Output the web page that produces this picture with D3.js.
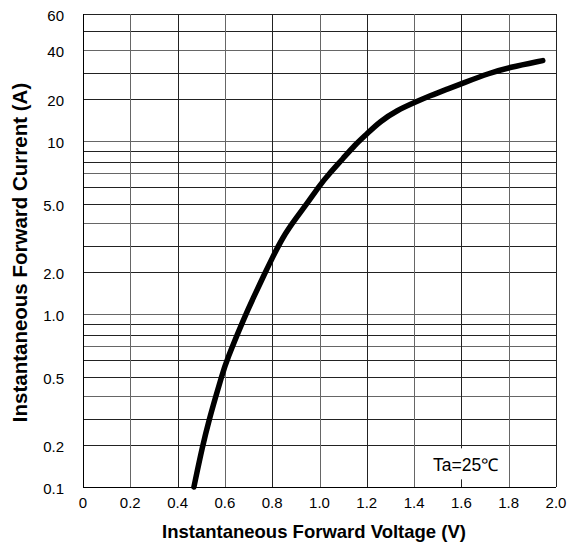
<!DOCTYPE html>
<html>
<head>
        <meta charset="utf-8">
        <script src="https://d3js.org/d3.v7.min.js"></script>
        <style>
            body { margin: 0; background: #fff; }
            text { font-family: "Liberation Sans", Arial, sans-serif; fill: #000; }
            .tick_label { font-size: 15px; }
            .axis_title { font-weight: bold; }
        </style>
</head>
<body>
        <script type="text/javascript">

            // Curve: voltage (V) vs current (A)
            var voltage = [0.469, 0.506, 0.534, 0.562, 0.585, 0.607, 0.685, 0.720, 0.762, 0.802, 0.847, 0.896, 0.953, 1.002, 1.037, 1.101, 1.150, 1.200, 1.256, 1.326, 1.404, 1.467, 1.538, 1.604, 1.721, 1.800, 1.944];
            var current = [0.1, 0.2, 0.3, 0.4, 0.5, 0.6, 0.98, 1.38, 1.89, 2.58, 3.42, 4.17, 5.15, 6.16, 6.88, 8.36, 9.6, 11.6, 14.6, 17.2, 19.2, 21.2, 23.7, 26.0, 30.0, 32.3, 35.3];

            // Grid and ticks
            var xGrid = [0, 0.2, 0.4, 0.6, 0.8, 1.0, 1.2, 1.4, 1.6, 1.8, 2.0];
            var xTickLabels = ["0", "0.2", "0.4", "0.6", "0.8", "1.0", "1.2", "1.4", "1.6", "1.8", "2.0"];
            var yGrid = [0.1, 0.2, 0.3, 0.4, 0.5, 0.6, 0.7, 0.8, 0.9, 1, 2, 3, 4, 5, 6, 7, 8, 9, 10, 20, 30, 40, 50, 60];
            var yTicks = [0.1, 0.2, 0.5, 1, 2, 5, 10, 20, 40, 60];
            var yTickLabels = ["0.1", "0.2", "0.5", "1.0", "2.0", "5.0", "10", "20", "40", "60"];

            // the chart paper: where 1..10 falls inside one decade
            var mantissa = [1, 2, 3, 4, 5, 6, 7, 8, 9, 10];
            var decadeSpacing = [0, 0.2405, 0.391, 0.525, 0.633, 0.731, 0.812, 0.876, 0.939, 1];

            var note = "Ta=25\u2103";
            var xTitle = "Instantaneous Forward Voltage (V)";
            var yTitle = "Instantaneous Forward Current (A)";

            function draw() {

                    var w = 570;
                    var h = 544;

                    var margin = {top: 14, right: 14, bottom: 57, left: 83},
                    width = w - margin.left - margin.right,
                    height = h - margin.top - margin.bottom;

                    var mant = d3.scaleLinear().domain(mantissa).range(decadeSpacing);

                    function paper(v) {
                        var e = Math.floor(Math.log10(v) + 1e-9);
                        return e + mant(v / Math.pow(10, e));
                    }

                    var x = d3.scaleLinear()
                        .domain([0, 2.0])
                        .range([0, width]);

                    var yp = d3.scaleLinear()
                        .domain([paper(0.1), paper(60)])
                        .range([height, 0]);

                    var y = function(v) { return yp(paper(v)); };

                    var data = voltage.map(function(v, i) { return {v: v, i: current[i]}; });

                    var svg = d3.select("body")
                        .append("svg")
                            .attr("width", w)
                            .attr("height", h)
                        .append("g")
                        .attr("transform", "translate(" + margin.left + "," + margin.top + ")");

                    // grid
                    svg.selectAll(".hgrid")
                        .data(yGrid)
                        .enter().append("line")
                        .attr("class", "hgrid")
                        .attr("x1", 0)
                        .attr("x2", width)
                        .attr("y1", function(d) { return Math.round(y(d)) + 0.5; })
                        .attr("y2", function(d) { return Math.round(y(d)) + 0.5; })
                        .attr("stroke", function(d, i) { return i % 3 == 0 ? "#666" : "#222"; })
                        .attr("stroke-width", 1);

                    svg.selectAll(".vgrid")
                        .data(xGrid)
                        .enter().append("line")
                        .attr("class", "vgrid")
                        .attr("x1", function(d) { return Math.round(x(d)) + 0.5; })
                        .attr("x2", function(d) { return Math.round(x(d)) + 0.5; })
                        .attr("y1", 0)
                        .attr("y2", height)
                        .attr("stroke", function(d, i) { return i % 2 == 0 ? "#222" : "#666"; })
                        .attr("stroke-width", 1);

                    // frame, left and bottom
                    svg.append("line")
                        .attr("x1", 0.5).attr("x2", 0.5)
                        .attr("y1", 0).attr("y2", height)
                        .attr("stroke", "#000");
                    svg.append("line")
                        .attr("x1", 0).attr("x2", width)
                        .attr("y1", height + 0.5).attr("y2", height + 0.5)
                        .attr("stroke", "#000");

                    // the note sits on a white patch over the grid
                    svg.append("rect")
                        .attr("x", x(1.45))
                        .attr("y", y(0.2) + 3)
                        .attr("width", x(1.75) - x(1.45))
                        .attr("height", 31)
                        .attr("fill", "#fff");

                    svg.append("text")
                        .attr("x", x(1.48))
                        .attr("y", y(0.2) + 26)
                        .style("font-size", "17.5px")
                        .text(note);

                    // curve, smoothed over the hand-read points
                    var line = d3.line()
                        .curve(d3.curveBasis)
                        .x(function(d) { return x(d.v); })
                        .y(function(d) { return y(d.i); });

                    svg.append("path")
                      .datum(data)
                      .attr("fill", "none")
                      .attr("stroke", "#000")
                      .attr("stroke-linejoin", "round")
                      .attr("stroke-linecap", "round")
                      .attr("stroke-width", 5.5)
                      .attr("d", line);

                    // tick labels
                    svg.selectAll(".xlab")
                        .data(xGrid)
                        .enter().append("text")
                        .attr("class", "tick_label")
                        .attr("x", function(d) { return x(d); })
                        .attr("y", height + 21)
                        .attr("text-anchor", "middle")
                        .text(function(d, i) { return xTickLabels[i]; });

                    svg.selectAll(".ylab")
                        .data(yTicks)
                        .enter().append("text")
                        .attr("class", "tick_label")
                        .attr("x", -19)
                        .attr("y", function(d) { return y(d) + 7; })
                        .attr("text-anchor", "end")
                        .text(function(d, i) { return yTickLabels[i]; });

                    // axis titles
                    svg.append("text")
                        .attr("class", "axis_title")
                        .attr("x", 314 - margin.left)
                        .attr("y", height + 51)
                        .attr("text-anchor", "middle")
                        .style("font-size", "18.5px")
                        .text(xTitle);

                    svg.append("text")
                        .attr("class", "axis_title")
                        .attr("transform", "translate(" + (26.5 - margin.left) + "," + (252.5 - margin.top) + ") rotate(-90)")
                        .attr("text-anchor", "middle")
                        .style("font-size", "20.5px")
                        .text(yTitle);
            };

            draw();

        </script>
</body>
</html>
